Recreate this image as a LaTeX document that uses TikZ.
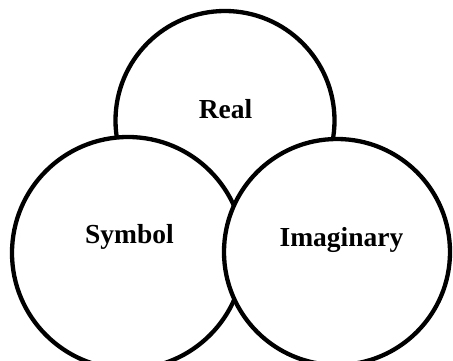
\documentclass[tikz,border=0pt]{standalone}
\usepackage{fontspec}
\setmainfont{Liberation Serif}
\begin{document}
\begin{tikzpicture}[x=1pt,y=-1pt,
  ring/.style={circle,draw=black,fill=white,line width=4.3pt,inner sep=0pt,outer sep=0pt},
  lbl/.style={font=\fontsize{27.5}{32}\selectfont\bfseries,anchor=base,inner sep=0pt}]
\useasboundingbox (0,0) rectangle (453,361);
\clip (0,0) rectangle (453,361);
\node[ring,minimum size=219pt] (real) at (225,120.5) {};
\node[ring,minimum size=232pt] (sym) at (128,253) {};
\node[ring,minimum size=226pt] (imag) at (337,252) {};
\node[lbl] (treal) at (225.5,118) {Real};
\node[lbl] (tsym) at (129.5,243) {Symbol};
\node[lbl] (timag) at (341.5,246) {Imaginary};
\end{tikzpicture}
\end{document}
